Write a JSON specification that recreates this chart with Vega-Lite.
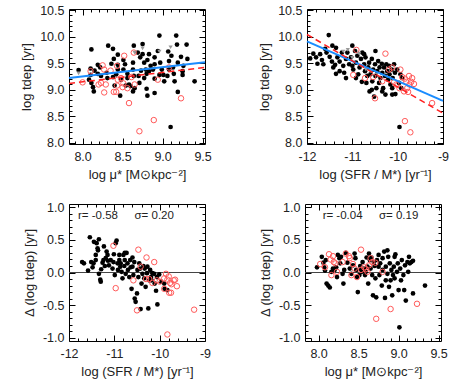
{
"$schema": "https://vega.github.io/schema/vega-lite/v6.json",
"padding": {"left": 20, "top": 3, "right": 0, "bottom": 0},
"background": "white",
"config": {
  "view": {"stroke": "black", "strokeWidth": 1},
  "axis": {"domain": false, "grid": false, "labelFont": "Liberation Sans", "labelFontSize": 12.5, "titleFont": "Liberation Sans", "titleFontSize": 13, "titleFontWeight": "normal", "labelColor": "#222", "titleColor": "#222", "tickColor": "black", "labelOverlap": false, "labelFlush": false},
  "text": {"font": "Liberation Sans"}
},
"datasets": {
"p1": [
{"x":7.95,"y":9.37,"g":"b"},{"x":8.11,"y":9.76,"g":"b"},{"x":8.10,"y":9.40,"g":"b"},{"x":8.15,"y":9.36,"g":"b"},{"x":8.10,"y":9.28,"g":"b"},{"x":8.08,"y":9.19,"g":"b"},{"x":8.11,"y":9.13,"g":"b"},{"x":8.13,"y":9.05,"g":"b"},{"x":8.14,"y":8.97,"g":"b"},{"x":8.19,"y":9.30,"g":"b"},{"x":8.22,"y":9.42,"g":"b"},{"x":8.32,"y":9.83,"g":"b"},{"x":8.38,"y":9.77,"g":"b"},{"x":8.39,"y":9.58,"g":"b"},{"x":8.36,"y":9.49,"g":"b"},{"x":8.30,"y":9.32,"g":"b"},{"x":8.31,"y":9.22,"g":"b"},{"x":8.38,"y":9.24,"g":"b"},{"x":8.42,"y":9.29,"g":"b"},{"x":8.40,"y":9.08,"g":"b"},{"x":8.47,"y":8.89,"g":"b"},{"x":8.44,"y":9.38,"g":"b"},{"x":8.51,"y":9.56,"g":"b"},{"x":8.53,"y":9.48,"g":"b"},{"x":8.56,"y":9.30,"g":"b"},{"x":8.56,"y":9.22,"g":"b"},{"x":8.58,"y":9.10,"g":"b"},{"x":8.60,"y":9.07,"g":"b"},{"x":8.51,"y":9.38,"g":"b"},{"x":8.63,"y":9.51,"g":"b"},{"x":8.63,"y":9.38,"g":"b"},{"x":8.64,"y":9.83,"g":"b"},{"x":8.69,"y":9.70,"g":"b"},{"x":8.72,"y":9.61,"g":"b"},{"x":8.75,"y":9.86,"g":"b"},{"x":8.77,"y":9.51,"g":"b"},{"x":8.73,"y":9.36,"g":"b"},{"x":8.70,"y":9.26,"g":"b"},{"x":8.71,"y":9.13,"g":"b"},{"x":8.64,"y":9.26,"g":"b"},{"x":8.65,"y":9.03,"g":"b"},{"x":8.77,"y":9.22,"g":"b"},{"x":8.80,"y":9.30,"g":"b"},{"x":8.80,"y":9.02,"g":"b"},{"x":8.81,"y":9.56,"g":"b"},{"x":8.85,"y":9.45,"g":"b"},{"x":8.88,"y":9.38,"g":"b"},{"x":8.90,"y":9.48,"g":"b"},{"x":8.90,"y":9.61,"g":"b"},{"x":8.94,"y":9.73,"g":"b"},{"x":8.96,"y":10.02,"g":"b"},{"x":8.97,"y":9.51,"g":"b"},{"x":8.99,"y":9.38,"g":"b"},{"x":9.01,"y":9.28,"g":"b"},{"x":9.02,"y":9.16,"g":"b"},{"x":9.07,"y":9.72,"g":"b"},{"x":9.08,"y":9.54,"g":"b"},{"x":9.11,"y":9.64,"g":"b"},{"x":9.13,"y":9.42,"g":"b"},{"x":9.14,"y":9.30,"g":"b"},{"x":9.15,"y":9.16,"g":"b"},{"x":9.17,"y":10.02,"g":"b"},{"x":9.18,"y":9.85,"g":"b"},{"x":9.19,"y":9.51,"g":"b"},{"x":9.25,"y":9.28,"g":"b"},{"x":9.26,"y":9.45,"g":"b"},{"x":9.23,"y":9.62,"g":"b"},{"x":9.30,"y":9.85,"g":"b"},{"x":9.25,"y":9.35,"g":"b"},{"x":9.40,"y":9.16,"g":"b"},{"x":9.19,"y":8.96,"g":"b"},{"x":9.10,"y":8.30,"g":"b"},{"x":8.90,"y":8.94,"g":"b"},{"x":8.81,"y":8.89,"g":"b"},{"x":8.90,"y":9.21,"g":"b"},{"x":8.79,"y":9.38,"g":"b"},{"x":9.06,"y":9.26,"g":"b"},{"x":8.75,"y":9.67,"g":"b"},{"x":8.83,"y":9.67,"g":"b"},{"x":8.44,"y":9.47,"g":"b"},{"x":8.48,"y":9.19,"g":"b"},{"x":8.23,"y":9.26,"g":"b"},{"x":8.19,"y":9.47,"g":"b"},{"x":8.44,"y":9.66,"g":"b"},{"x":8.83,"y":9.35,"g":"b"},{"x":8.96,"y":9.28,"g":"b"},{"x":9.08,"y":9.38,"g":"b"},{"x":8.63,"y":8.97,"g":"b"},{"x":8.54,"y":9.08,"g":"b"},{"x":9.31,"y":9.58,"g":"b"},
{"x":8.00,"y":9.14,"g":"r"},{"x":8.20,"y":9.10,"g":"r"},{"x":8.23,"y":9.13,"g":"r"},{"x":8.25,"y":9.46,"g":"r"},{"x":8.29,"y":9.10,"g":"r"},{"x":8.27,"y":8.95,"g":"r"},{"x":8.35,"y":9.36,"g":"r"},{"x":8.39,"y":8.96,"g":"r"},{"x":8.42,"y":8.96,"g":"r"},{"x":8.43,"y":9.08,"g":"r"},{"x":8.44,"y":9.19,"g":"r"},{"x":8.48,"y":9.22,"g":"r"},{"x":8.50,"y":9.05,"g":"r"},{"x":8.51,"y":9.12,"g":"r"},{"x":8.56,"y":9.03,"g":"r"},{"x":8.58,"y":8.75,"g":"r"},{"x":8.52,"y":9.64,"g":"r"},{"x":8.64,"y":9.70,"g":"r"},{"x":8.65,"y":9.10,"g":"r"},{"x":8.61,"y":9.24,"g":"r"},{"x":8.94,"y":9.19,"g":"r"},{"x":8.89,"y":8.43,"g":"r"},{"x":8.71,"y":8.22,"g":"r"},{"x":9.23,"y":8.84,"g":"r"},{"x":9.08,"y":9.42,"g":"r"},{"x":8.43,"y":9.45,"g":"r"},{"x":8.10,"y":9.35,"g":"r"},{"x":8.27,"y":9.38,"g":"r"},
{"x":7.95,"y":9.31,"g":"u"},{"x":8.75,"y":9.78,"g":"u"},{"x":8.96,"y":9.72,"g":"u"},{"x":9.10,"y":9.80,"g":"u"},{"x":8.65,"y":9.70,"g":"u"}
],
"p2": [
{"x":-11.93,"y":9.59,"g":"b"},{"x":-11.86,"y":9.68,"g":"b"},{"x":-11.80,"y":9.61,"g":"b"},{"x":-11.77,"y":9.49,"g":"b"},{"x":-11.71,"y":9.67,"g":"b"},{"x":-11.67,"y":9.56,"g":"b"},{"x":-11.64,"y":9.48,"g":"b"},{"x":-11.60,"y":9.77,"g":"b"},{"x":-11.57,"y":9.70,"g":"b"},{"x":-11.52,"y":10.03,"g":"b"},{"x":-11.50,"y":9.62,"g":"b"},{"x":-11.45,"y":9.53,"g":"b"},{"x":-11.42,"y":9.42,"g":"b"},{"x":-11.38,"y":9.47,"g":"b"},{"x":-11.36,"y":9.30,"g":"b"},{"x":-11.33,"y":9.61,"g":"b"},{"x":-11.28,"y":9.53,"g":"b"},{"x":-11.23,"y":9.70,"g":"b"},{"x":-11.20,"y":9.45,"g":"b"},{"x":-11.18,"y":9.32,"g":"b"},{"x":-11.14,"y":9.58,"g":"b"},{"x":-11.11,"y":9.70,"g":"b"},{"x":-11.07,"y":9.48,"g":"b"},{"x":-11.03,"y":9.61,"g":"b"},{"x":-11.00,"y":9.83,"g":"b"},{"x":-10.98,"y":9.38,"g":"b"},{"x":-10.94,"y":9.73,"g":"b"},{"x":-10.92,"y":9.51,"g":"b"},{"x":-10.89,"y":9.64,"g":"b"},{"x":-10.87,"y":9.29,"g":"b"},{"x":-10.84,"y":9.42,"g":"b"},{"x":-10.81,"y":9.58,"g":"b"},{"x":-10.79,"y":9.15,"g":"b"},{"x":-10.78,"y":9.70,"g":"b"},{"x":-10.74,"y":9.48,"g":"b"},{"x":-10.72,"y":9.35,"g":"b"},{"x":-10.71,"y":9.61,"g":"b"},{"x":-10.67,"y":9.26,"g":"b"},{"x":-10.65,"y":9.42,"g":"b"},{"x":-10.63,"y":9.51,"g":"b"},{"x":-10.62,"y":8.97,"g":"b"},{"x":-10.60,"y":9.29,"g":"b"},{"x":-10.57,"y":9.58,"g":"b"},{"x":-10.56,"y":9.16,"g":"b"},{"x":-10.54,"y":9.38,"g":"b"},{"x":-10.52,"y":8.87,"g":"b"},{"x":-10.50,"y":9.48,"g":"b"},{"x":-10.49,"y":9.26,"g":"b"},{"x":-10.47,"y":9.03,"g":"b"},{"x":-10.45,"y":9.35,"g":"b"},{"x":-10.43,"y":9.54,"g":"b"},{"x":-10.41,"y":9.13,"g":"b"},{"x":-10.40,"y":9.42,"g":"b"},{"x":-10.38,"y":9.22,"g":"b"},{"x":-10.35,"y":9.49,"g":"b"},{"x":-10.34,"y":9.32,"g":"b"},{"x":-10.32,"y":9.03,"g":"b"},{"x":-10.30,"y":9.42,"g":"b"},{"x":-10.28,"y":9.26,"g":"b"},{"x":-10.27,"y":8.91,"g":"b"},{"x":-10.25,"y":9.48,"g":"b"},{"x":-10.23,"y":9.35,"g":"b"},{"x":-10.21,"y":9.19,"g":"b"},{"x":-10.19,"y":9.45,"g":"b"},{"x":-10.18,"y":9.29,"g":"b"},{"x":-10.16,"y":9.10,"g":"b"},{"x":-10.13,"y":9.38,"g":"b"},{"x":-10.12,"y":8.91,"g":"b"},{"x":-10.11,"y":9.22,"g":"b"},{"x":-10.08,"y":9.48,"g":"b"},{"x":-10.06,"y":9.32,"g":"b"},{"x":-10.05,"y":8.92,"g":"b"},{"x":-10.01,"y":9.38,"g":"b"},{"x":-9.97,"y":9.13,"g":"b"},{"x":-9.96,"y":8.30,"g":"b"},{"x":-9.94,"y":9.29,"g":"b"},{"x":-9.92,"y":9.03,"g":"b"},{"x":-9.90,"y":9.22,"g":"b"},{"x":-11.00,"y":9.45,"g":"b"},{"x":-11.14,"y":9.22,"g":"b"},{"x":-11.28,"y":9.35,"g":"b"},{"x":-10.69,"y":9.13,"g":"b"},{"x":-10.57,"y":9.00,"g":"b"},{"x":-10.34,"y":8.97,"g":"b"},{"x":-11.36,"y":9.79,"g":"b"},{"x":-11.44,"y":9.83,"g":"b"},{"x":-10.92,"y":9.22,"g":"b"},{"x":-10.74,"y":9.67,"g":"b"},{"x":-10.49,"y":9.73,"g":"b"},{"x":-10.12,"y":9.03,"g":"b"},
{"x":-10.98,"y":9.28,"g":"r"},{"x":-10.72,"y":9.22,"g":"r"},{"x":-10.50,"y":8.84,"g":"r"},{"x":-10.54,"y":9.24,"g":"r"},{"x":-10.19,"y":9.38,"g":"r"},{"x":-10.12,"y":9.42,"g":"r"},{"x":-10.08,"y":9.15,"g":"r"},{"x":-10.03,"y":9.10,"g":"r"},{"x":-9.94,"y":9.38,"g":"r"},{"x":-9.90,"y":9.24,"g":"r"},{"x":-9.84,"y":9.21,"g":"r"},{"x":-9.81,"y":9.15,"g":"r"},{"x":-9.79,"y":9.03,"g":"r"},{"x":-9.77,"y":8.96,"g":"r"},{"x":-9.74,"y":9.10,"g":"r"},{"x":-9.70,"y":9.15,"g":"r"},{"x":-9.64,"y":9.11,"g":"r"},{"x":-9.84,"y":8.41,"g":"r"},{"x":-9.72,"y":8.20,"g":"r"},{"x":-9.24,"y":8.75,"g":"r"},{"x":-10.27,"y":9.68,"g":"r"},{"x":-10.91,"y":9.75,"g":"r"},{"x":-9.86,"y":8.97,"g":"r"},{"x":-9.68,"y":9.22,"g":"r"},{"x":-9.96,"y":9.03,"g":"r"},{"x":-9.75,"y":9.26,"g":"r"},{"x":-10.34,"y":9.16,"g":"r"},
{"x":-11.2,"y":9.72,"g":"u"},{"x":-11.0,"y":9.60,"g":"u"},{"x":-10.8,"y":9.45,"g":"u"},{"x":-10.7,"y":9.38,"g":"u"},{"x":-10.6,"y":9.35,"g":"u"},{"x":-11.1,"y":9.75,"g":"u"},{"x":-10.85,"y":9.68,"g":"u"}
],
"p3": [
{"x":-11.71,"y":0.16,"g":"b"},{"x":-11.67,"y":0.14,"g":"b"},{"x":-11.58,"y":0.03,"g":"b"},{"x":-11.54,"y":0.54,"g":"b"},{"x":-11.51,"y":0.16,"g":"b"},{"x":-11.48,"y":0.08,"g":"b"},{"x":-11.46,"y":0.14,"g":"b"},{"x":-11.41,"y":0.27,"g":"b"},{"x":-11.41,"y":0.19,"g":"b"},{"x":-11.39,"y":0.45,"g":"b"},{"x":-11.37,"y":0.37,"g":"b"},{"x":-11.36,"y":0.34,"g":"b"},{"x":-11.34,"y":0.51,"g":"b"},{"x":-11.34,"y":-0.02,"g":"b"},{"x":-11.31,"y":-0.11,"g":"b"},{"x":-11.30,"y":-0.14,"g":"b"},{"x":-11.29,"y":0.05,"g":"b"},{"x":-11.26,"y":0.15,"g":"b"},{"x":-11.24,"y":0.19,"g":"b"},{"x":-11.21,"y":0.10,"g":"b"},{"x":-11.19,"y":0.22,"g":"b"},{"x":-11.15,"y":0.27,"g":"b"},{"x":-11.14,"y":0.18,"g":"b"},{"x":-11.12,"y":0.11,"g":"b"},{"x":-11.08,"y":0.19,"g":"b"},{"x":-11.04,"y":0.06,"g":"b"},{"x":-11.02,"y":0.16,"g":"b"},{"x":-11.01,"y":0.28,"g":"b"},{"x":-10.99,"y":-0.04,"g":"b"},{"x":-10.97,"y":0.45,"g":"b"},{"x":-10.95,"y":0.49,"g":"b"},{"x":-10.93,"y":0.14,"g":"b"},{"x":-10.92,"y":0.04,"g":"b"},{"x":-10.89,"y":0.19,"g":"b"},{"x":-10.87,"y":0.09,"g":"b"},{"x":-10.86,"y":0.14,"g":"b"},{"x":-10.84,"y":0.01,"g":"b"},{"x":-10.82,"y":-0.09,"g":"b"},{"x":-10.80,"y":0.27,"g":"b"},{"x":-10.78,"y":0.10,"g":"b"},{"x":-10.77,"y":0.19,"g":"b"},{"x":-10.75,"y":-0.02,"g":"b"},{"x":-10.73,"y":0.30,"g":"b"},{"x":-10.71,"y":0.14,"g":"b"},{"x":-10.70,"y":0.04,"g":"b"},{"x":-10.67,"y":-0.07,"g":"b"},{"x":-10.65,"y":0.19,"g":"b"},{"x":-10.64,"y":0.08,"g":"b"},{"x":-10.62,"y":-0.25,"g":"b"},{"x":-10.60,"y":0.09,"g":"b"},{"x":-10.58,"y":-0.04,"g":"b"},{"x":-10.56,"y":0.16,"g":"b"},{"x":-10.55,"y":-0.40,"g":"b"},{"x":-10.53,"y":-0.45,"g":"b"},{"x":-10.50,"y":-0.32,"g":"b"},{"x":-10.49,"y":0.04,"g":"b"},{"x":-10.47,"y":-0.07,"g":"b"},{"x":-10.45,"y":0.14,"g":"b"},{"x":-10.43,"y":0.06,"g":"b"},{"x":-10.42,"y":-0.56,"g":"b"},{"x":-10.40,"y":-0.17,"g":"b"},{"x":-10.38,"y":-0.02,"g":"b"},{"x":-10.36,"y":0.10,"g":"b"},{"x":-10.34,"y":-0.09,"g":"b"},{"x":-10.33,"y":0.06,"g":"b"},{"x":-10.31,"y":-0.22,"g":"b"},{"x":-10.28,"y":-0.01,"g":"b"},{"x":-10.27,"y":0.09,"g":"b"},{"x":-10.25,"y":-0.55,"g":"b"},{"x":-10.23,"y":-0.12,"g":"b"},{"x":-10.21,"y":0.04,"g":"b"},{"x":-10.19,"y":-0.07,"g":"b"},{"x":-10.18,"y":-0.12,"g":"b"},{"x":-10.16,"y":-0.01,"g":"b"},{"x":-10.12,"y":-0.02,"g":"b"},{"x":-10.11,"y":-0.17,"g":"b"},{"x":-10.08,"y":-0.28,"g":"b"},{"x":-10.06,"y":-0.07,"g":"b"},{"x":-10.05,"y":-0.49,"g":"b"},{"x":-10.01,"y":-0.03,"g":"b"},{"x":-9.97,"y":-0.14,"g":"b"},{"x":-9.90,"y":-0.17,"g":"b"},{"x":-9.89,"y":-0.25,"g":"b"},{"x":-9.83,"y":-0.27,"g":"b"},{"x":-11.17,"y":0.32,"g":"b"},{"x":-10.89,"y":0.27,"g":"b"},{"x":-10.77,"y":0.30,"g":"b"},{"x":-10.60,"y":0.23,"g":"b"},{"x":-11.45,"y":0.47,"g":"b"},{"x":-11.23,"y":0.40,"g":"b"},
{"x":-11.02,"y":0.41,"g":"r"},{"x":-10.97,"y":-0.24,"g":"r"},{"x":-10.47,"y":0.35,"g":"r"},{"x":-10.29,"y":0.23,"g":"r"},{"x":-10.42,"y":0.09,"g":"r"},{"x":-10.12,"y":0.16,"g":"r"},{"x":-10.30,"y":-0.10,"g":"r"},{"x":-10.23,"y":-0.10,"g":"r"},{"x":-10.16,"y":-0.16,"g":"r"},{"x":-10.06,"y":-0.12,"g":"r"},{"x":-9.90,"y":-0.09,"g":"r"},{"x":-9.86,"y":-0.02,"g":"r"},{"x":-9.83,"y":-0.11,"g":"r"},{"x":-9.80,"y":-0.06,"g":"r"},{"x":-9.77,"y":-0.16,"g":"r"},{"x":-9.74,"y":-0.18,"g":"r"},{"x":-9.69,"y":-0.12,"g":"r"},{"x":-9.66,"y":-0.11,"g":"r"},{"x":-9.62,"y":-0.21,"g":"r"},{"x":-9.79,"y":-0.31,"g":"r"},{"x":-9.75,"y":-0.31,"g":"r"},{"x":-10.50,"y":-0.58,"g":"r"},{"x":-9.83,"y":-0.95,"g":"r"},{"x":-9.24,"y":-0.57,"g":"r"},{"x":-9.90,"y":-0.25,"g":"r"},{"x":-10.58,"y":-0.12,"g":"r"},{"x":-10.00,"y":-0.14,"g":"r"}
],
"p4": [
{"x":7.98,"y":0.08,"g":"b"},{"x":8.04,"y":0.24,"g":"b"},{"x":8.06,"y":0.15,"g":"b"},{"x":8.07,"y":0.08,"g":"b"},{"x":8.08,"y":0.03,"g":"b"},{"x":8.09,"y":0.19,"g":"b"},{"x":8.10,"y":-0.17,"g":"b"},{"x":8.12,"y":-0.20,"g":"b"},{"x":8.14,"y":-0.23,"g":"b"},{"x":8.16,"y":0.01,"g":"b"},{"x":8.18,"y":0.06,"g":"b"},{"x":8.20,"y":0.04,"g":"b"},{"x":8.22,"y":0.08,"g":"b"},{"x":8.23,"y":-0.07,"g":"b"},{"x":8.24,"y":0.27,"g":"b"},{"x":8.26,"y":0.22,"g":"b"},{"x":8.27,"y":0.14,"g":"b"},{"x":8.28,"y":0.24,"g":"b"},{"x":8.30,"y":-0.02,"g":"b"},{"x":8.31,"y":-0.17,"g":"b"},{"x":8.32,"y":0.04,"g":"b"},{"x":8.34,"y":0.30,"g":"b"},{"x":8.36,"y":0.15,"g":"b"},{"x":8.39,"y":0.06,"g":"b"},{"x":8.41,"y":-0.02,"g":"b"},{"x":8.43,"y":0.11,"g":"b"},{"x":8.45,"y":0.29,"g":"b"},{"x":8.46,"y":0.22,"g":"b"},{"x":8.47,"y":0.04,"g":"b"},{"x":8.48,"y":-0.07,"g":"b"},{"x":8.49,"y":-0.30,"g":"b"},{"x":8.51,"y":-0.04,"g":"b"},{"x":8.52,"y":0.10,"g":"b"},{"x":8.53,"y":0.05,"g":"b"},{"x":8.54,"y":0.01,"g":"b"},{"x":8.55,"y":0.16,"g":"b"},{"x":8.57,"y":0.06,"g":"b"},{"x":8.58,"y":-0.04,"g":"b"},{"x":8.59,"y":0.01,"g":"b"},{"x":8.61,"y":0.09,"g":"b"},{"x":8.62,"y":-0.17,"g":"b"},{"x":8.63,"y":0.29,"g":"b"},{"x":8.64,"y":0.19,"g":"b"},{"x":8.65,"y":0.06,"g":"b"},{"x":8.66,"y":0.23,"g":"b"},{"x":8.67,"y":-0.04,"g":"b"},{"x":8.68,"y":-0.35,"g":"b"},{"x":8.69,"y":0.16,"g":"b"},{"x":8.70,"y":0.10,"g":"b"},{"x":8.71,"y":-0.09,"g":"b"},{"x":8.72,"y":-0.38,"g":"b"},{"x":8.73,"y":0.19,"g":"b"},{"x":8.75,"y":0.27,"g":"b"},{"x":8.75,"y":0.09,"g":"b"},{"x":8.76,"y":-0.04,"g":"b"},{"x":8.77,"y":0.14,"g":"b"},{"x":8.79,"y":-0.20,"g":"b"},{"x":8.80,"y":0.22,"g":"b"},{"x":8.80,"y":0.04,"g":"b"},{"x":8.82,"y":0.32,"g":"b"},{"x":8.83,"y":-0.39,"g":"b"},{"x":8.84,"y":-0.12,"g":"b"},{"x":8.84,"y":0.09,"g":"b"},{"x":8.86,"y":-0.02,"g":"b"},{"x":8.87,"y":0.24,"g":"b"},{"x":8.88,"y":-0.22,"g":"b"},{"x":8.89,"y":0.14,"g":"b"},{"x":8.90,"y":-0.12,"g":"b"},{"x":8.91,"y":0.04,"g":"b"},{"x":8.92,"y":-0.35,"g":"b"},{"x":8.93,"y":-0.04,"g":"b"},{"x":8.94,"y":0.09,"g":"b"},{"x":8.95,"y":-0.09,"g":"b"},{"x":8.96,"y":0.28,"g":"b"},{"x":8.98,"y":0.01,"g":"b"},{"x":8.99,"y":0.14,"g":"b"},{"x":9.00,"y":-0.27,"g":"b"},{"x":9.01,"y":-0.84,"g":"b"},{"x":9.02,"y":0.06,"g":"b"},{"x":9.03,"y":-0.12,"g":"b"},{"x":9.04,"y":0.19,"g":"b"},{"x":9.06,"y":-0.04,"g":"b"},{"x":9.07,"y":-0.27,"g":"b"},{"x":9.08,"y":0.11,"g":"b"},{"x":9.09,"y":-0.43,"g":"b"},{"x":9.11,"y":0.16,"g":"b"},{"x":9.12,"y":0.01,"g":"b"},{"x":9.13,"y":0.24,"g":"b"},{"x":9.14,"y":0.14,"g":"b"},{"x":9.16,"y":0.16,"g":"b"},{"x":9.18,"y":0.18,"g":"b"},{"x":9.33,"y":-0.20,"g":"b"},{"x":9.18,"y":-0.32,"g":"b"},{"x":8.95,"y":0.24,"g":"b"},{"x":8.86,"y":0.34,"g":"b"},{"x":8.60,"y":0.23,"g":"b"},
{"x":8.02,"y":0.13,"g":"r"},{"x":8.08,"y":0.08,"g":"r"},{"x":8.13,"y":0.28,"g":"r"},{"x":8.15,"y":0.20,"g":"r"},{"x":8.18,"y":0.25,"g":"r"},{"x":8.19,"y":0.16,"g":"r"},{"x":8.16,"y":-0.04,"g":"r"},{"x":8.21,"y":0.14,"g":"r"},{"x":8.23,"y":0.01,"g":"r"},{"x":8.30,"y":0.16,"g":"r"},{"x":8.34,"y":0.29,"g":"r"},{"x":8.38,"y":0.25,"g":"r"},{"x":8.39,"y":0.22,"g":"r"},{"x":8.41,"y":-0.04,"g":"r"},{"x":8.43,"y":0.13,"g":"r"},{"x":8.45,"y":0.06,"g":"r"},{"x":8.48,"y":-0.07,"g":"r"},{"x":8.53,"y":0.35,"g":"r"},{"x":8.53,"y":0.04,"g":"r"},{"x":8.57,"y":0.08,"g":"r"},{"x":8.59,"y":0.05,"g":"r"},{"x":8.61,"y":0.01,"g":"r"},{"x":8.63,"y":0.11,"g":"r"},{"x":8.65,"y":0.22,"g":"r"},{"x":8.67,"y":0.16,"g":"r"},{"x":8.72,"y":-0.71,"g":"r"},{"x":8.90,"y":-0.56,"g":"r"},{"x":9.23,"y":-0.48,"g":"r"},{"x":8.71,"y":0.15,"g":"r"},{"x":8.80,"y":0.01,"g":"r"}
]
},
"vconcat": [
{"hconcat": [
{"width": 136, "height": 135, "data": {"name": "p1"},
 "layer": [
  {"transform": [{"filter": "datum.g=='b'"}], "mark": {"type": "point", "filled": true, "color": "black", "size": 22, "opacity": 1},
   "encoding": {
    "x": {"field": "x", "type": "quantitative", "scale": {"domain": [7.83, 9.53], "nice": false, "zero": false},
      "axis": {"orient": "bottom", "title": "log μ* [M⊙kpc⁻²]", "values": [7.9,8.0,8.1,8.2,8.3,8.4,8.5,8.6,8.7,8.8,8.9,9.0,9.1,9.2,9.3,9.4,9.5], "labelExpr": "abs(datum.value*2-round(datum.value*2))<0.001 ? format(datum.value,'.1f') : ''", "tickSize": {"condition": {"test": "abs(datum.value*2-round(datum.value*2))<0.001", "value": -6}, "value": -3}, "labelPadding": 12, "titlePadding": 3}},
    "y": {"field": "y", "type": "quantitative", "scale": {"domain": [7.98, 10.52], "nice": false, "zero": false},
      "axis": {"orient": "left", "title": "log tdep [yr]", "values": [8.0,8.1,8.2,8.3,8.4,8.5,8.6,8.7,8.8,8.9,9.0,9.1,9.2,9.3,9.4,9.5,9.6,9.7,9.8,9.9,10.0,10.1,10.2,10.3,10.4,10.5], "labelExpr": "abs(datum.value*2-round(datum.value*2))<0.001 ? format(datum.value,'.1f') : ''", "tickSize": {"condition": {"test": "abs(datum.value*2-round(datum.value*2))<0.001", "value": -6}, "value": -3}, "labelPadding": 11, "titlePadding": 6}}}},
  {"transform": [{"filter": "datum.g=='r'"}], "mark": {"type": "point", "filled": false, "color": "#ff5a5a", "size": 30, "strokeWidth": 1, "opacity": 1},
   "encoding": {
    "x": {"field": "x", "type": "quantitative", "scale": {"domain": [7.83, 9.53], "nice": false, "zero": false},
      "axis": {"orient": "top", "title": null, "labels": false, "values": [7.9,8.0,8.1,8.2,8.3,8.4,8.5,8.6,8.7,8.8,8.9,9.0,9.1,9.2,9.3,9.4,9.5], "tickSize": {"condition": {"test": "abs(datum.value*2-round(datum.value*2))<0.001", "value": -6}, "value": -3}}},
    "y": {"field": "y", "type": "quantitative", "scale": {"domain": [7.98, 10.52], "nice": false, "zero": false},
      "axis": {"orient": "right", "title": null, "labels": false, "values": [8.0,8.1,8.2,8.3,8.4,8.5,8.6,8.7,8.8,8.9,9.0,9.1,9.2,9.3,9.4,9.5,9.6,9.7,9.8,9.9,10.0,10.1,10.2,10.3,10.4,10.5], "tickSize": {"condition": {"test": "abs(datum.value*2-round(datum.value*2))<0.001", "value": -6}, "value": -3}}}}},
  {"transform": [{"filter": "datum.g=='u'"}], "mark": {"type": "point", "shape": "triangle-down", "filled": true, "color": "#999", "size": 18, "opacity": 1},
   "encoding": {"x": {"field": "x", "type": "quantitative", "axis": null}, "y": {"field": "y", "type": "quantitative", "axis": null}}},
  {"data": {"values": [{"x": 7.83, "y": 9.22}, {"x": 9.53, "y": 9.52}]}, "mark": {"type": "line", "color": "#1a8cff", "strokeWidth": 2},
   "encoding": {"x": {"field": "x", "type": "quantitative", "axis": null}, "y": {"field": "y", "type": "quantitative", "axis": null}}},
  {"data": {"values": [{"x": 7.83, "y": 9.12}, {"x": 9.53, "y": 9.42}]}, "mark": {"type": "line", "color": "#ff2020", "strokeWidth": 1.5, "strokeDash": [6, 4]},
   "encoding": {"x": {"field": "x", "type": "quantitative", "axis": null}, "y": {"field": "y", "type": "quantitative", "axis": null}}}
 ],
 "resolve": {"axis": {"x": "independent", "y": "independent"}}
},
{"width": 136, "height": 135, "data": {"name": "p2"},
 "layer": [
  {"transform": [{"filter": "datum.g=='b'"}], "mark": {"type": "point", "filled": true, "color": "black", "size": 22, "opacity": 1},
   "encoding": {
    "x": {"field": "x", "type": "quantitative", "scale": {"domain": [-12, -9], "nice": false, "zero": false},
      "axis": {"orient": "bottom", "title": "log (SFR / M*) [yr⁻¹]", "values": [-12,-11.8,-11.6,-11.4,-11.2,-11,-10.8,-10.6,-10.4,-10.2,-10,-9.8,-9.6,-9.4,-9.2,-9], "labelExpr": "abs(datum.value-round(datum.value))<0.001 ? replace(format(datum.value,'d'),'−','-') : ''", "tickSize": {"condition": {"test": "abs(datum.value-round(datum.value))<0.001", "value": -6}, "value": -3}, "labelPadding": 12, "titlePadding": 3}},
    "y": {"field": "y", "type": "quantitative", "scale": {"domain": [7.98, 10.52], "nice": false, "zero": false},
      "axis": {"orient": "left", "title": "log tdep [yr]", "values": [8.0,8.1,8.2,8.3,8.4,8.5,8.6,8.7,8.8,8.9,9.0,9.1,9.2,9.3,9.4,9.5,9.6,9.7,9.8,9.9,10.0,10.1,10.2,10.3,10.4,10.5], "labelExpr": "abs(datum.value*2-round(datum.value*2))<0.001 ? format(datum.value,'.1f') : ''", "tickSize": {"condition": {"test": "abs(datum.value*2-round(datum.value*2))<0.001", "value": -6}, "value": -3}, "labelPadding": 11, "titlePadding": 6}}}},
  {"transform": [{"filter": "datum.g=='r'"}], "mark": {"type": "point", "filled": false, "color": "#ff5a5a", "size": 30, "strokeWidth": 1, "opacity": 1},
   "encoding": {
    "x": {"field": "x", "type": "quantitative", "scale": {"domain": [-12, -9], "nice": false, "zero": false},
      "axis": {"orient": "top", "title": null, "labels": false, "values": [-12,-11.8,-11.6,-11.4,-11.2,-11,-10.8,-10.6,-10.4,-10.2,-10,-9.8,-9.6,-9.4,-9.2,-9], "tickSize": {"condition": {"test": "abs(datum.value-round(datum.value))<0.001", "value": -6}, "value": -3}}},
    "y": {"field": "y", "type": "quantitative", "scale": {"domain": [7.98, 10.52], "nice": false, "zero": false},
      "axis": {"orient": "right", "title": null, "labels": false, "values": [8.0,8.1,8.2,8.3,8.4,8.5,8.6,8.7,8.8,8.9,9.0,9.1,9.2,9.3,9.4,9.5,9.6,9.7,9.8,9.9,10.0,10.1,10.2,10.3,10.4,10.5], "tickSize": {"condition": {"test": "abs(datum.value*2-round(datum.value*2))<0.001", "value": -6}, "value": -3}}}}},
  {"transform": [{"filter": "datum.g=='u'"}], "mark": {"type": "point", "shape": "triangle-down", "filled": true, "color": "#999", "size": 18, "opacity": 1},
   "encoding": {"x": {"field": "x", "type": "quantitative", "axis": null}, "y": {"field": "y", "type": "quantitative", "axis": null}}},
  {"data": {"values": [{"x": -12, "y": 9.91}, {"x": -9, "y": 8.79}]}, "mark": {"type": "line", "color": "#1a8cff", "strokeWidth": 2},
   "encoding": {"x": {"field": "x", "type": "quantitative", "axis": null}, "y": {"field": "y", "type": "quantitative", "axis": null}}},
  {"data": {"values": [{"x": -12, "y": 10.04}, {"x": -9, "y": 8.56}]}, "mark": {"type": "line", "color": "#ff2020", "strokeWidth": 1.5, "strokeDash": [6, 4]},
   "encoding": {"x": {"field": "x", "type": "quantitative", "axis": null}, "y": {"field": "y", "type": "quantitative", "axis": null}}}
 ],
 "resolve": {"axis": {"x": "independent", "y": "independent"}}
}
], "spacing": 46},
{"hconcat": [
{"width": 136, "height": 137, "data": {"name": "p3"},
 "layer": [
  {"data": {"values": [{"y": 0}]}, "mark": {"type": "rule", "color": "#444", "strokeWidth": 1.2},
   "encoding": {"y": {"field": "y", "type": "quantitative", "axis": null}}},
  {"transform": [{"filter": "datum.g=='b'"}], "mark": {"type": "point", "filled": true, "color": "black", "size": 22, "opacity": 1},
   "encoding": {
    "x": {"field": "x", "type": "quantitative", "scale": {"domain": [-12, -9], "nice": false, "zero": false},
      "axis": {"orient": "bottom", "title": "log (SFR / M*) [yr⁻¹]", "values": [-12,-11.8,-11.6,-11.4,-11.2,-11,-10.8,-10.6,-10.4,-10.2,-10,-9.8,-9.6,-9.4,-9.2,-9], "labelExpr": "abs(datum.value-round(datum.value))<0.001 ? replace(format(datum.value,'d'),'−','-') : ''", "tickSize": {"condition": {"test": "abs(datum.value-round(datum.value))<0.001", "value": -6}, "value": -3}, "labelPadding": 12, "titlePadding": 3}},
    "y": {"field": "y", "type": "quantitative", "scale": {"domain": [-1.05, 1.05], "nice": false, "zero": false},
      "axis": {"orient": "left", "title": "Δ (log tdep)  [yr]", "values": [-1.0,-0.9,-0.8,-0.7,-0.6,-0.5,-0.4,-0.3,-0.2,-0.1,0.0,0.1,0.2,0.3,0.4,0.5,0.6,0.7,0.8,0.9,1.0], "labelExpr": "abs(datum.value*2-round(datum.value*2))<0.001 ? replace(format(datum.value,'.1f'),'−','-') : ''", "tickSize": {"condition": {"test": "abs(datum.value*2-round(datum.value*2))<0.001", "value": -6}, "value": -3}, "labelPadding": 11, "titlePadding": 6}}}},
  {"transform": [{"filter": "datum.g=='r'"}], "mark": {"type": "point", "filled": false, "color": "#ff5a5a", "size": 30, "strokeWidth": 1, "opacity": 1},
   "encoding": {
    "x": {"field": "x", "type": "quantitative", "scale": {"domain": [-12, -9], "nice": false, "zero": false},
      "axis": {"orient": "top", "title": null, "labels": false, "values": [-12,-11.8,-11.6,-11.4,-11.2,-11,-10.8,-10.6,-10.4,-10.2,-10,-9.8,-9.6,-9.4,-9.2,-9], "tickSize": {"condition": {"test": "abs(datum.value-round(datum.value))<0.001", "value": -6}, "value": -3}}},
    "y": {"field": "y", "type": "quantitative", "scale": {"domain": [-1.05, 1.05], "nice": false, "zero": false},
      "axis": {"orient": "right", "title": null, "labels": false, "values": [-1.0,-0.9,-0.8,-0.7,-0.6,-0.5,-0.4,-0.3,-0.2,-0.1,0.0,0.1,0.2,0.3,0.4,0.5,0.6,0.7,0.8,0.9,1.0], "tickSize": {"condition": {"test": "abs(datum.value*2-round(datum.value*2))<0.001", "value": -6}, "value": -3}}}}},
  {"data": {"values": [{"x": -11.36, "y": 0.86, "t": "r= -0.58"}, {"x": -10.12, "y": 0.86, "t": "σ= 0.20"}]}, "mark": {"type": "text", "fontSize": 11.5, "color": "#222"},
   "encoding": {"x": {"field": "x", "type": "quantitative", "axis": null}, "y": {"field": "y", "type": "quantitative", "axis": null}, "text": {"field": "t"}}}
 ],
 "resolve": {"axis": {"x": "independent", "y": "independent"}}
},
{"width": 136, "height": 137, "data": {"name": "p4"},
 "layer": [
  {"data": {"values": [{"y": 0}]}, "mark": {"type": "rule", "color": "#444", "strokeWidth": 1.2},
   "encoding": {"y": {"field": "y", "type": "quantitative", "axis": null}}},
  {"transform": [{"filter": "datum.g=='b'"}], "mark": {"type": "point", "filled": true, "color": "black", "size": 22, "opacity": 1},
   "encoding": {
    "x": {"field": "x", "type": "quantitative", "scale": {"domain": [7.83, 9.53], "nice": false, "zero": false},
      "axis": {"orient": "bottom", "title": "log μ* [M⊙kpc⁻²]", "values": [7.9,8.0,8.1,8.2,8.3,8.4,8.5,8.6,8.7,8.8,8.9,9.0,9.1,9.2,9.3,9.4,9.5], "labelExpr": "abs(datum.value*2-round(datum.value*2))<0.001 ? format(datum.value,'.1f') : ''", "tickSize": {"condition": {"test": "abs(datum.value*2-round(datum.value*2))<0.001", "value": -6}, "value": -3}, "labelPadding": 12, "titlePadding": 3}},
    "y": {"field": "y", "type": "quantitative", "scale": {"domain": [-1.05, 1.05], "nice": false, "zero": false},
      "axis": {"orient": "left", "title": "Δ (log tdep)  [yr]", "values": [-1.0,-0.9,-0.8,-0.7,-0.6,-0.5,-0.4,-0.3,-0.2,-0.1,0.0,0.1,0.2,0.3,0.4,0.5,0.6,0.7,0.8,0.9,1.0], "labelExpr": "abs(datum.value*2-round(datum.value*2))<0.001 ? replace(format(datum.value,'.1f'),'−','-') : ''", "tickSize": {"condition": {"test": "abs(datum.value*2-round(datum.value*2))<0.001", "value": -6}, "value": -3}, "labelPadding": 11, "titlePadding": 6}}}},
  {"transform": [{"filter": "datum.g=='r'"}], "mark": {"type": "point", "filled": false, "color": "#ff5a5a", "size": 30, "strokeWidth": 1, "opacity": 1},
   "encoding": {
    "x": {"field": "x", "type": "quantitative", "scale": {"domain": [7.83, 9.53], "nice": false, "zero": false},
      "axis": {"orient": "top", "title": null, "labels": false, "values": [7.9,8.0,8.1,8.2,8.3,8.4,8.5,8.6,8.7,8.8,8.9,9.0,9.1,9.2,9.3,9.4,9.5], "tickSize": {"condition": {"test": "abs(datum.value*2-round(datum.value*2))<0.001", "value": -6}, "value": -3}}},
    "y": {"field": "y", "type": "quantitative", "scale": {"domain": [-1.05, 1.05], "nice": false, "zero": false},
      "axis": {"orient": "right", "title": null, "labels": false, "values": [-1.0,-0.9,-0.8,-0.7,-0.6,-0.5,-0.4,-0.3,-0.2,-0.1,0.0,0.1,0.2,0.3,0.4,0.5,0.6,0.7,0.8,0.9,1.0], "tickSize": {"condition": {"test": "abs(datum.value*2-round(datum.value*2))<0.001", "value": -6}, "value": -3}}}}},
  {"data": {"values": [{"x": 8.30, "y": 0.86, "t": "r= -0.04"}, {"x": 9.0, "y": 0.86, "t": "σ= 0.19"}]}, "mark": {"type": "text", "fontSize": 11.5, "color": "#222"},
   "encoding": {"x": {"field": "x", "type": "quantitative", "axis": null}, "y": {"field": "y", "type": "quantitative", "axis": null}, "text": {"field": "t"}}}
 ],
 "resolve": {"axis": {"x": "independent", "y": "independent"}}
}
], "spacing": 46}
],
"spacing": 18
}
